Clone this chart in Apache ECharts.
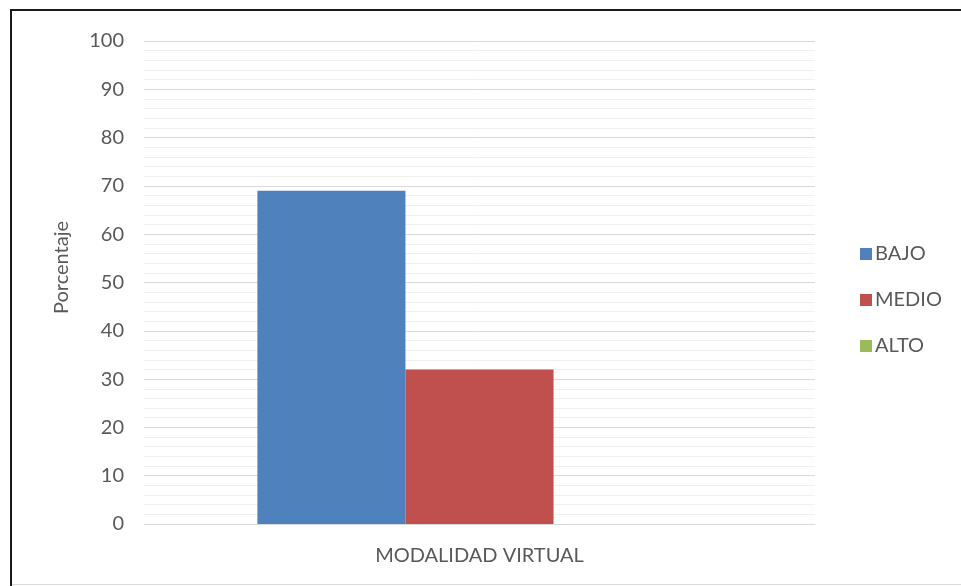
<!DOCTYPE html>
<html>
<head>
<meta charset="utf-8">
<script src="https://cdn.jsdelivr.net/npm/echarts@6/dist/echarts.min.js"></script>
<style>
  html, body { margin: 0; padding: 0; background: #fff; }
  #chart { width: 961px; height: 586px; }
</style>
</head>
<body>
<div id="chart"></div>
<script>
// Categories and percentage values per level
const categories = ['MODALIDAD VIRTUAL'];
const seriesNames = ['BAJO', 'MEDIO', 'ALTO'];
const bajo = [69];
const medio = [32];
const alto = [0];
const yMin = 0, yMax = 100, yStep = 10;

const colors = ['#4F81BD', '#C0504D', '#9BBB59'];
const textColor = '#595959';
const font = 'Lato';

const chart = echarts.init(document.getElementById('chart'), null, { renderer: 'canvas' });

const values = [bajo, medio, alto];

chart.setOption({
  animation: false,
  backgroundColor: '#ffffff',
  color: colors,
  textStyle: { fontFamily: font, color: textColor },
  grid: { left: 144, right: 146, top: 41, bottom: 62, containLabel: false },
  legend: {
    orient: 'vertical',
    left: 855,
    top: 239,
    itemWidth: 12,
    itemHeight: 12,
    itemGap: 26,
    icon: 'rect',
    data: seriesNames,
    textStyle: { fontFamily: font, fontSize: 20, color: textColor, lineHeight: 20, padding: [0, 0, 0, -2] }
  },
  xAxis: {
    type: 'category',
    data: categories,
    axisLine: { lineStyle: { color: '#D9D9D9', width: 1 } },
    axisTick: { show: false },
    axisLabel: { fontFamily: font, fontSize: 20, color: textColor, margin: 22 }
  },
  yAxis: {
    type: 'value',
    min: yMin,
    max: yMax,
    interval: yStep,
    name: 'Porcentaje',
    nameLocation: 'middle',
    nameRotate: 90,
    nameGap: 72,
    nameTextStyle: { fontFamily: font, fontSize: 20, color: textColor, padding: [0, 0, 0, 30] },
    axisLine: { show: false },
    axisTick: { show: false },
    axisLabel: { fontFamily: font, fontSize: 20, color: textColor, margin: 20 },
    splitLine: { lineStyle: { color: '#D9D9D9', width: 1 } },
    minorTick: { show: false, splitNumber: 5 },
    minorSplitLine: { show: true, lineStyle: { color: '#F0F0F0', width: 1 } }
  },
  series: seriesNames.map((name, i) => ({
    name: name,
    type: 'bar',
    data: values[i],
    barGap: '0%',
    barCategoryGap: '33.8%',
    itemStyle: { color: colors[i] }
  })),
  graphic: [
    { type: 'line', shape: { x1: 10, y1: 10, x2: 961, y2: 10 }, style: { stroke: '#1a1a1a', lineWidth: 2 } },
    { type: 'line', shape: { x1: 11, y1: 9, x2: 11, y2: 586 }, style: { stroke: '#1a1a1a', lineWidth: 2 } },
    { type: 'line', shape: { x1: 12, y1: 584.5, x2: 961, y2: 584.5 }, style: { stroke: '#D9D9D9', lineWidth: 1 } }
  ]
});
</script>
</body>
</html>
